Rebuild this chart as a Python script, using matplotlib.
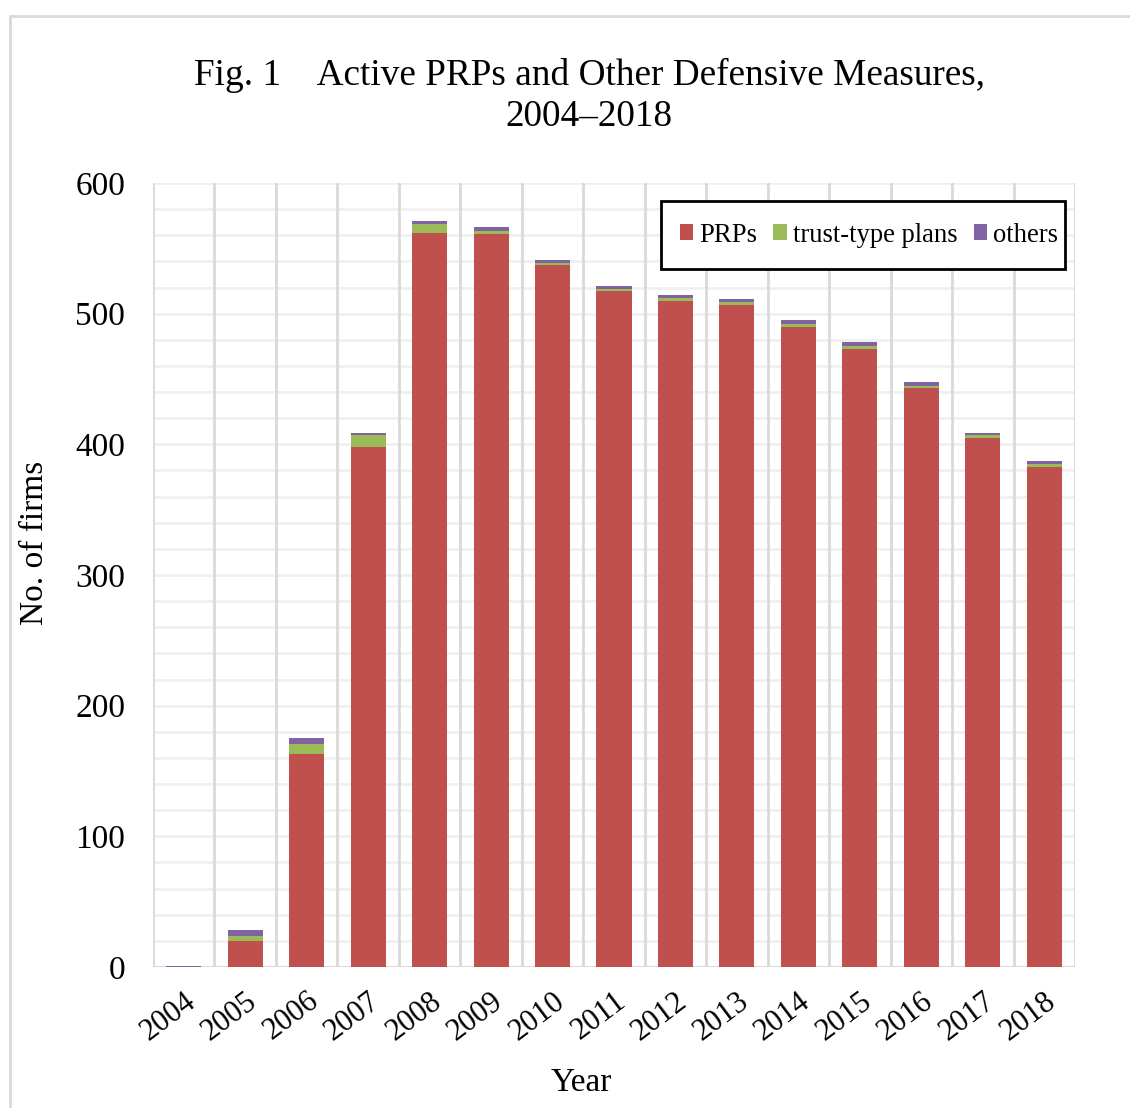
import numpy as np
import matplotlib.pyplot as plt
import matplotlib.transforms as mtransforms
from matplotlib.patches import Rectangle

plt.rcParams['font.family'] = ['Liberation Serif', 'DejaVu Serif']

years = [str(y) for y in range(2004, 2019)]
prps = [0, 20, 163, 398, 562, 561, 537, 517, 510, 507, 490, 473, 443, 405, 383]
trust = [0, 4, 8, 9, 7, 2, 2, 2, 2, 2, 2, 2, 2, 2, 2]
others = [1, 4, 4, 2, 2, 3, 2, 2, 2, 2, 3, 3, 3, 2, 2]

c_red = '#C0504D'
c_green = '#9BBB59'
c_purple = '#8064A2'

fig = plt.figure(figsize=(11.3, 11.08), dpi=100)
ax = fig.add_axes([153/1130, 1-967/1108, (1075-153)/1130, (967-183)/1108])

x = np.arange(len(years))
w = 0.57
prps = np.array(prps)
trust = np.array(trust)
others = np.array(others)
ax.bar(x, prps, w, color=c_red, label='PRPs', zorder=5)
ax.bar(x, trust, w, bottom=prps, color=c_green, label='trust-type plans', zorder=5)
ax.bar(x, others, w, bottom=prps+trust, color=c_purple, label='others', zorder=5)

ax.set_xlim(-0.5, len(years)-0.5)
ax.set_ylim(0, 600)
ax.set_yticks(range(0, 601, 100))
ax.set_yticklabels([str(v) for v in range(0, 601, 100)], fontsize=24)
ax.set_xticks(x)
ax.set_xticklabels(years, fontsize=22, rotation=37, ha='right', rotation_mode='anchor')
shift = mtransforms.ScaledTranslation(-5/100, 0, fig.dpi_scale_trans)
for lbl in ax.get_xticklabels():
    lbl.set_transform(lbl.get_transform() + shift)
ax.tick_params(axis='both', length=0)
ax.tick_params(axis='y', pad=20)
ax.tick_params(axis='x', pad=14)

# grid: horizontal every 20, vertical at category boundaries
for v in range(20, 601, 20):
    ax.axhline(v, color='#F0F0F0', lw=2, zorder=1)
for b in np.arange(-0.5, len(years), 1.0):
    ax.axvline(b, color='#D9D9D9', lw=2, zorder=1)

for s in ax.spines.values():
    s.set_visible(False)
ax.axhline(0, color='#D9D9D9', lw=2.2, zorder=2)

fig.text(35/1130, 1-543/1108, 'No. of firms', fontsize=24, rotation=90,
         ha='center', va='center')
fig.text(581/1130, 1-1083/1108, 'Year', fontsize=24, ha='center', va='center')

fig.text(589/1130, 1-75/1108, 'Fig. 1    Active PRPs and Other Defensive Measures,',
         fontsize=26.8, ha='center', va='center')
fig.text(589/1130, 1-117/1108, '2004\u20132018', fontsize=26.8, ha='center', va='center')

# legend box drawn by hand, entries without frame
box = Rectangle(((661-153)/922, (967-269)/784), 404/922, 68/784, transform=ax.transAxes,
                facecolor='white', edgecolor='black', lw=2, zorder=6)
ax.add_patch(box)
leg = ax.legend(loc='center right', bbox_to_anchor=((1058-153)/922, (967-235)/784),
                ncol=3, fontsize=19.2, frameon=False,
                handlelength=0.5, handleheight=0.5, handletextpad=0.22,
                columnspacing=0.62, borderpad=0, borderaxespad=0)
leg.set_zorder(7)

fig.patches.append(Rectangle((10/1130, -0.1), 1.2, 1-16/1108+0.1, transform=fig.transFigure,
                             fill=False, edgecolor='#D9D9D9', lw=2))

fig.savefig('out.png', dpi=100)
